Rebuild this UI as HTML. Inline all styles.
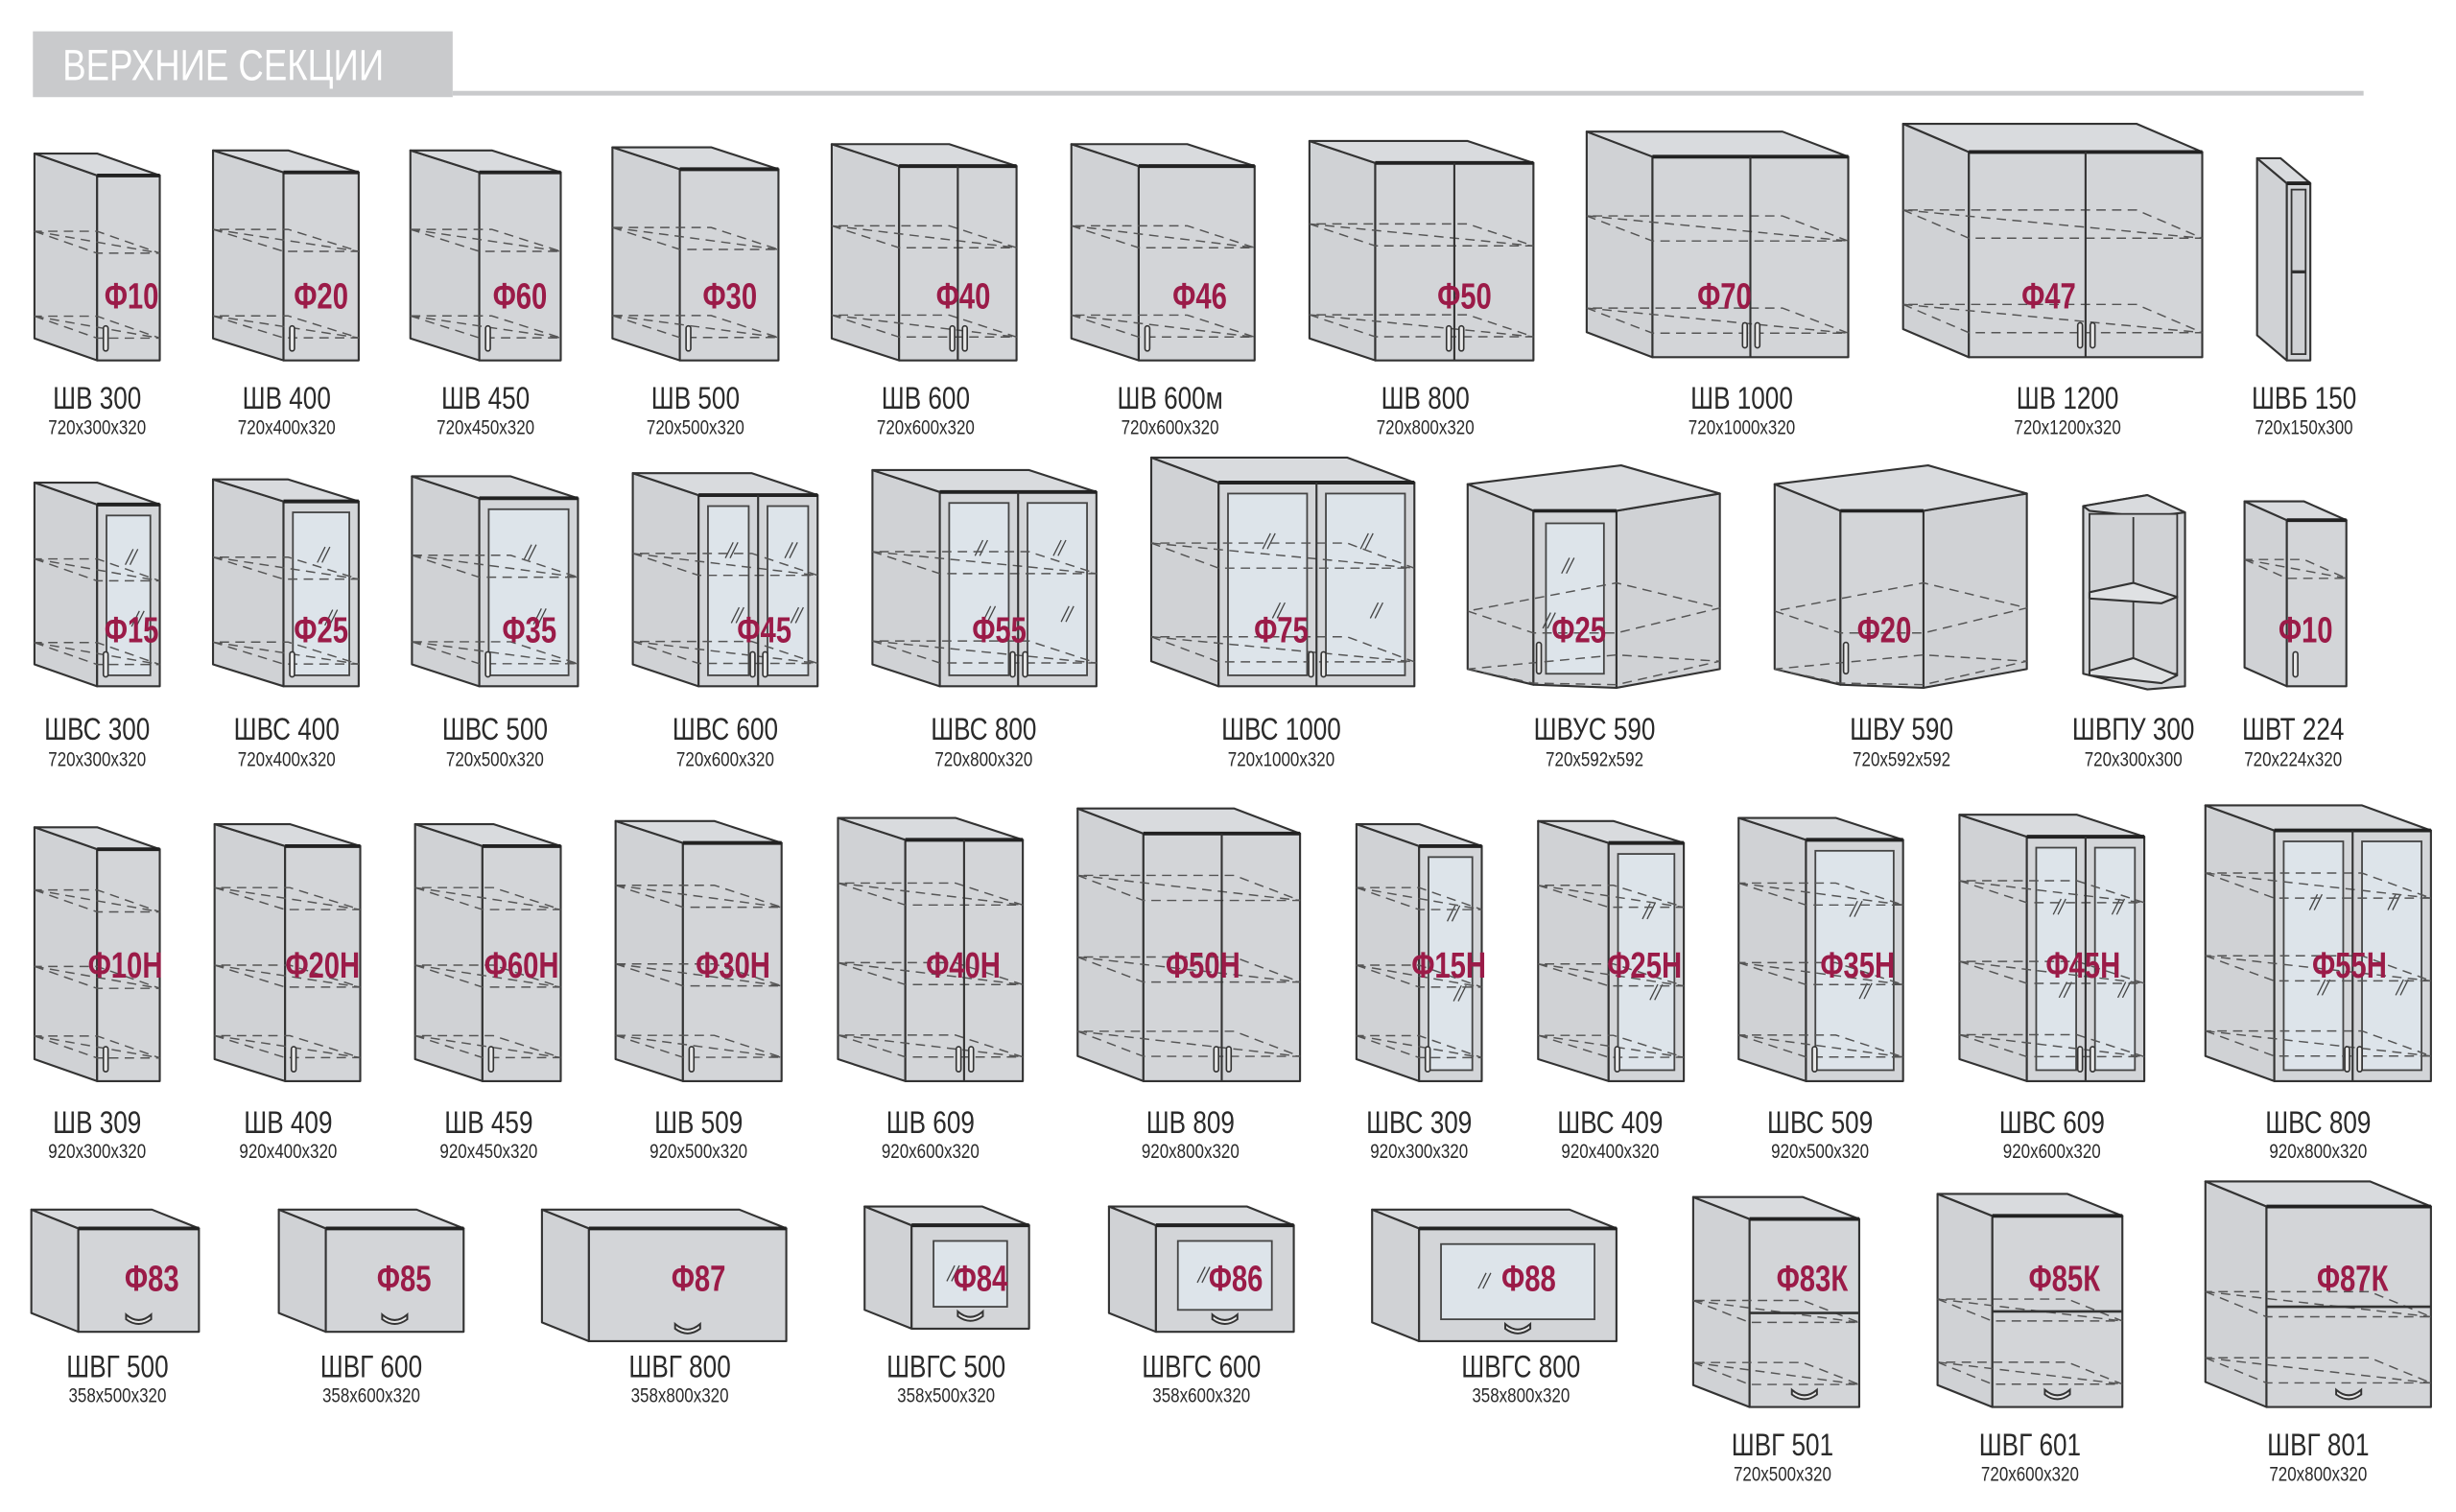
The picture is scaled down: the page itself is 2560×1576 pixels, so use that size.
<!DOCTYPE html>
<html><head><meta charset="utf-8"><style>
html,body{margin:0;padding:0;background:#fff;}
svg{display:block}
.n{font-family:"Liberation Sans",sans-serif;font-size:20px;fill:#2a2a2a;text-anchor:middle}
.d{font-family:"Liberation Sans",sans-serif;font-size:13px;fill:#2a2a2a;text-anchor:middle}
.r{font-family:"Liberation Sans",sans-serif;font-size:23px;font-weight:bold;fill:#9b1b48;text-anchor:middle}
</style></head><body>
<svg id="s" width="2560" height="1576" viewBox="0 0 1568 965" preserveAspectRatio="none" xmlns="http://www.w3.org/2000/svg">
<rect x="21" y="20" width="268" height="42" fill="#c9cacc"/>
<rect x="289" y="58" width="1220" height="3" fill="#c9cacc"/>
<text id="hdr" x="40" y="51" style="font-family:'Liberation Sans',sans-serif;font-size:28px;fill:#fff">ВЕРХНИЕ СЕКЦИИ</text>
<g id="shapes"></g>
<g id="labels">
<text class="r" x="84" y="197">Φ10</text><text class="r" x="205" y="197">Φ20</text><text class="r" x="332" y="197">Φ60</text>
<text class="r" x="466" y="197">Φ30</text><text class="r" x="615" y="197">Φ40</text><text class="r" x="766" y="197">Φ46</text>
<text class="r" x="935" y="197">Φ50</text><text class="r" x="1101" y="197">Φ70</text><text class="r" x="1308" y="197">Φ47</text>
<text class="r" x="84" y="410">Φ15</text><text class="r" x="205" y="410">Φ25</text><text class="r" x="338" y="410">Φ35</text>
<text class="r" x="488" y="410">Φ45</text><text class="r" x="638" y="410">Φ55</text><text class="r" x="818" y="410">Φ75</text>
<text class="r" x="1008" y="410">Φ25</text><text class="r" x="1203" y="410">Φ20</text><text class="r" x="1472" y="410">Φ10</text>
<text class="r" x="80" y="624">Φ10Н</text><text class="r" x="206" y="624">Φ20Н</text><text class="r" x="333" y="624">Φ60Н</text>
<text class="r" x="468" y="624">Φ30Н</text><text class="r" x="615" y="624">Φ40Н</text><text class="r" x="768" y="624">Φ50Н</text>
<text class="r" x="925" y="624">Φ15Н</text><text class="r" x="1050" y="624">Φ25Н</text><text class="r" x="1186" y="624">Φ35Н</text>
<text class="r" x="1330" y="624">Φ45Н</text><text class="r" x="1500" y="624">Φ55Н</text>
<text class="r" x="97" y="824">Φ83</text><text class="r" x="258" y="824">Φ85</text><text class="r" x="446" y="824">Φ87</text>
<text class="r" x="626" y="824">Φ84</text><text class="r" x="789" y="824">Φ86</text><text class="r" x="976" y="824">Φ88</text>
<text class="r" x="1157" y="824">Φ83К</text><text class="r" x="1318" y="824">Φ85К</text><text class="r" x="1502" y="824">Φ87К</text>

<text class="n" x="62" y="261">ШВ 300</text><text class="d" x="62" y="277">720x300x320</text>
<text class="n" x="183" y="261">ШВ 400</text><text class="d" x="183" y="277">720x400x320</text>
<text class="n" x="310" y="261">ШВ 450</text><text class="d" x="310" y="277">720x450x320</text>
<text class="n" x="444" y="261">ШВ 500</text><text class="d" x="444" y="277">720x500x320</text>
<text class="n" x="591" y="261">ШВ 600</text><text class="d" x="591" y="277">720x600x320</text>
<text class="n" x="747" y="261">ШВ 600м</text><text class="d" x="747" y="277">720x600x320</text>
<text class="n" x="910" y="261">ШВ 800</text><text class="d" x="910" y="277">720x800x320</text>
<text class="n" x="1112" y="261">ШВ 1000</text><text class="d" x="1112" y="277">720x1000x320</text>
<text class="n" x="1320" y="261">ШВ 1200</text><text class="d" x="1320" y="277">720x1200x320</text>
<text class="n" x="1471" y="261">ШВБ 150</text><text class="d" x="1471" y="277">720x150x300</text>
<text class="n" x="62" y="472">ШВС 300</text><text class="d" x="62" y="489">720x300x320</text>
<text class="n" x="183" y="472">ШВС 400</text><text class="d" x="183" y="489">720x400x320</text>
<text class="n" x="316" y="472">ШВС 500</text><text class="d" x="316" y="489">720x500x320</text>
<text class="n" x="463" y="472">ШВС 600</text><text class="d" x="463" y="489">720x600x320</text>
<text class="n" x="628" y="472">ШВС 800</text><text class="d" x="628" y="489">720x800x320</text>
<text class="n" x="818" y="472">ШВС 1000</text><text class="d" x="818" y="489">720x1000x320</text>
<text class="n" x="1018" y="472">ШВУС 590</text><text class="d" x="1018" y="489">720x592x592</text>
<text class="n" x="1214" y="472">ШВУ 590</text><text class="d" x="1214" y="489">720x592x592</text>
<text class="n" x="1362" y="472">ШВПУ 300</text><text class="d" x="1362" y="489">720x300x300</text>
<text class="n" x="1464" y="472">ШВТ 224</text><text class="d" x="1464" y="489">720x224x320</text>
<text class="n" x="62" y="723">ШВ 309</text><text class="d" x="62" y="739">920x300x320</text>
<text class="n" x="184" y="723">ШВ 409</text><text class="d" x="184" y="739">920x400x320</text>
<text class="n" x="312" y="723">ШВ 459</text><text class="d" x="312" y="739">920x450x320</text>
<text class="n" x="446" y="723">ШВ 509</text><text class="d" x="446" y="739">920x500x320</text>
<text class="n" x="594" y="723">ШВ 609</text><text class="d" x="594" y="739">920x600x320</text>
<text class="n" x="760" y="723">ШВ 809</text><text class="d" x="760" y="739">920x800x320</text>
<text class="n" x="906" y="723">ШВС 309</text><text class="d" x="906" y="739">920x300x320</text>
<text class="n" x="1028" y="723">ШВС 409</text><text class="d" x="1028" y="739">920x400x320</text>
<text class="n" x="1162" y="723">ШВС 509</text><text class="d" x="1162" y="739">920x500x320</text>
<text class="n" x="1310" y="723">ШВС 609</text><text class="d" x="1310" y="739">920x600x320</text>
<text class="n" x="1480" y="723">ШВС 809</text><text class="d" x="1480" y="739">920x800x320</text>
<text class="n" x="75" y="879">ШВГ 500</text><text class="d" x="75" y="895">358x500x320</text>
<text class="n" x="237" y="879">ШВГ 600</text><text class="d" x="237" y="895">358x600x320</text>
<text class="n" x="434" y="879">ШВГ 800</text><text class="d" x="434" y="895">358x800x320</text>
<text class="n" x="604" y="879">ШВГС 500</text><text class="d" x="604" y="895">358x500x320</text>
<text class="n" x="767" y="879">ШВГС 600</text><text class="d" x="767" y="895">358x600x320</text>
<text class="n" x="971" y="879">ШВГС 800</text><text class="d" x="971" y="895">358x800x320</text>
<text class="n" x="1138" y="929">ШВГ 501</text><text class="d" x="1138" y="945">720x500x320</text>
<text class="n" x="1296" y="929">ШВГ 601</text><text class="d" x="1296" y="945">720x600x320</text>
<text class="n" x="1480" y="929">ШВГ 801</text><text class="d" x="1480" y="945">720x800x320</text>
</g>
</svg>
<script>
var S=[];
var ST='stroke="#333" stroke-width="1.3" stroke-linejoin="round"';
function pts(a){return a.map(function(p){return p[0].toFixed(1)+','+p[1].toFixed(1)}).join(' ')}
function P(a,f){S.push('<polygon points="'+pts(a)+'" fill="'+f+'" '+ST+'/>')}
function L(x1,y1,x2,y2,w,c){S.push('<line x1="'+x1+'" y1="'+y1+'" x2="'+x2+'" y2="'+y2+'" stroke="'+(c||'#333')+'" stroke-width="'+(w||1.3)+'"/>')}
function D(a){S.push('<polygon points="'+pts(a)+'" fill="none" stroke="#555" stroke-width="0.9" stroke-dasharray="6 4"/>')}
function hatch(x,y){L(x,y+6,x+5,y-4,0.8,'#444');L(x+3,y+6,x+8,y-4,0.8,'#444');}
function cab(xl,xf,xr,yt,yb,o){
 o=o||{};var dy=o.dy||14,dx=xf-xl,h=yb-yt,w=xr-xf;
 P([[xl,yt-dy],[xf,yt],[xf,yb],[xl,yb-dy]],'#d0d2d5');
 P([[xl,yt-dy],[xr-dx,yt-dy],[xr,yt],[xf,yt]],'#d9dbde');
 P([[xf,yt],[xr,yt],[xr,yb],[xf,yb]],'#d3d5d8');
 L(xf,yt,xr,yt,2.4,'#222');
 var nd=o.d===undefined?1:o.d;
 if(o.g){for(var i=0;i<nd;i++){var x0=xf+i*w/nd,x1=x0+w/nd,ix=o.hz?14:6;
   S.push('<rect x="'+(x0+ix)+'" y="'+(yt+(o.hz?10:7))+'" width="'+(x1-x0-2*ix)+'" height="'+(h-(o.hz?24:14))+'" fill="#dde4ea" stroke="#444" stroke-width="1.1"/>');
   if(!o.hz){hatch(x0+(x1-x0)*0.45,yt+h*0.28);hatch(x0+(x1-x0)*0.55,yt+h*0.62);}else{hatch(x0+(x1-x0)*0.3,yt+h*0.45);}
 }}
 if(o.open){S.push('<rect x="'+(xf+3)+'" y="'+(yt+4)+'" width="'+(w-6)+'" height="'+(h-8)+'" fill="#cfd1d4" stroke="#333" stroke-width="1.1"/>');L(xf+3,yt+h/2,xr-3,yt+h/2,2,'#333');}
 var sh=o.s||[0.42,0.88];
 sh.forEach(function(f){var yf=yt+f*h,yb2=yf-dy;D([[xl,yb2],[xf,yf],[xr,yf],[xr-dx,yb2]]);L(xl,yb2,xr,yf,0.9,'#555');S[S.length-1]=S[S.length-1].replace('/>',' stroke-dasharray="6 4"/>');});
 if(nd===2)L(xf+w/2,yt,xf+w/2,yb,1.3);
 if(o.split){var ym=yt+h*0.5;L(xf,ym,xr,ym,1.6,'#333');}
 if(o.hd==='h'){var cx=xf+w/2;S.push('<path d="M'+(cx-8)+','+(yb-11)+' q8,7 16,0 l0,3 q-8,6 -16,0z" fill="#e8e8e8" stroke="#333" stroke-width="1.2"/>');}
 else if(o.hd!=='none'&&!o.open){
  var hx=[];if(nd===2){hx=[xf+w/2-5,xf+w/2+3]}else{hx=[xf+4]}
  hx.forEach(function(x){S.push('<rect x="'+x+'" y="'+(yb-22)+'" width="3" height="16" rx="1.5" fill="#e8e8e8" stroke="#333" stroke-width="1"/>')});
 }
}
var R3=[0.27,0.6,0.9];
cab(22,62,102,112,230);
cab(136,181,229,110,230);
cab(262,306,358,110,230);
cab(391,434,497,108,230);
cab(531,574,649,106,230,{d:2});
cab(684,727,801,106,230);
cab(836,878,979,104,230,{d:2});
cab(1013,1055,1180,100,228,{d:2,dy:16});
cab(1215,1257,1406,97,228,{d:2,dy:18});
cab(1441,1460,1475,117,230,{open:1,s:[],dy:16});
cab(22,62,102,322,438,{g:1});
cab(136,181,229,320,438,{g:1});
cab(263,306,369,318,438,{g:1});
cab(404,446,522,316,438,{g:1,d:2});
cab(557,600,700,314,438,{g:1,d:2});
cab(735,778,903,308,438,{g:1,d:2,dy:16});
cab(1433,1460,1498,332,438,{s:[0.35],dy:12});
function corner(ox,glass){
 P([[ox,309],[ox+42,326],[ox+42,437],[ox,427]],'#d0d2d5');
 P([[ox+95,326],[ox+161,315],[ox+161,427],[ox+95,439]],'#d0d2d5');
 P([[ox,309],[ox+98,297],[ox+161,315],[ox+95,326],[ox+42,326]],'#d9dbde');
 P([[ox+42,326],[ox+95,326],[ox+95,439],[ox+42,437]],'#d3d5d8');
 L(ox+42,326,ox+95,326,2.2,'#222');
 if(glass){S.push('<rect x="'+(ox+50)+'" y="334" width="37" height="96" fill="#dde4ea" stroke="#444" stroke-width="1.1"/>');hatch(ox+60,360);hatch(ox+48,395);}
 D([[ox,390],[ox+42,404],[ox+95,404],[ox+161,388],[ox+95,372]]);
 D([[ox,427],[ox+42,436],[ox+95,437],[ox+161,422],[ox+95,418]]);
 S.push('<rect x="'+(ox+44)+'" y="410" width="3" height="20" rx="1.5" fill="#e8e8e8" stroke="#333" stroke-width="1"/>');
}
corner(937,true);corner(1133,false);
P([[1330,323],[1371,316],[1395,327],[1395,438],[1371,440],[1330,430]],'#d3d5d8');
P([[1330,323],[1371,316],[1395,327],[1371,330],[1334,326]],'#d9dbde');
S.push('<rect x="1334" y="328" width="56" height="102" fill="#d0d2d5" stroke="#333" stroke-width="1.1"/>');
L(1362,330,1362,428,1.1);
P([[1334,378],[1362,372],[1390,381],[1380,385],[1334,382]],'#dfe1e3');
P([[1334,428],[1362,420],[1390,431],[1380,436],[1334,431]],'#dfe1e3');
cab(22,62,102,542,690,{s:R3});
cab(137,182,230,540,690,{s:R3});
cab(265,308,358,540,690,{s:R3});
cab(393,436,499,538,690,{s:R3});
cab(535,578,653,536,690,{d:2,s:R3});
cab(688,730,830,532,690,{d:2,s:R3,dy:16});
cab(866,906,946,540,690,{g:1,s:R3});
cab(982,1027,1075,538,690,{g:1,s:R3});
cab(1110,1153,1215,536,690,{g:1,s:R3});
cab(1251,1294,1369,534,690,{g:1,d:2,s:R3});
cab(1408,1452,1552,530,690,{g:1,d:2,s:R3,dy:16});
cab(20,50,127,784,850,{hd:'h',s:[],dy:12});
cab(178,208,296,784,850,{hd:'h',s:[],dy:12});
cab(346,376,502,784,856,{hd:'h',s:[],dy:12});
cab(552,582,657,782,848,{hd:'h',g:1,hz:1,s:[],dy:12});
cab(708,738,826,782,850,{hd:'h',g:1,hz:1,s:[],dy:12});
cab(876,906,1032,784,856,{hd:'h',g:1,hz:1,s:[],dy:12});
cab(1081,1117,1187,778,898,{hd:'h',split:1,s:[0.55,0.88]});
cab(1237,1272,1355,776,898,{hd:'h',split:1,s:[0.55,0.88]});
cab(1408,1447,1552,770,898,{hd:'h',split:1,s:[0.55,0.88],dy:16});
document.getElementById('shapes').innerHTML=S.join('');
var T=document.querySelectorAll('#labels text, #hdr');
for(var i=0;i<T.length;i++){var t=T[i],x=+t.getAttribute('x'),y=+t.getAttribute('y'),k=t.classList.contains('r')?0.78:0.8;
 t.setAttribute('transform','translate('+x+' '+y+') scale('+k+' 1) translate('+(-x)+' '+(-y)+')');}
</script>
</body></html>
